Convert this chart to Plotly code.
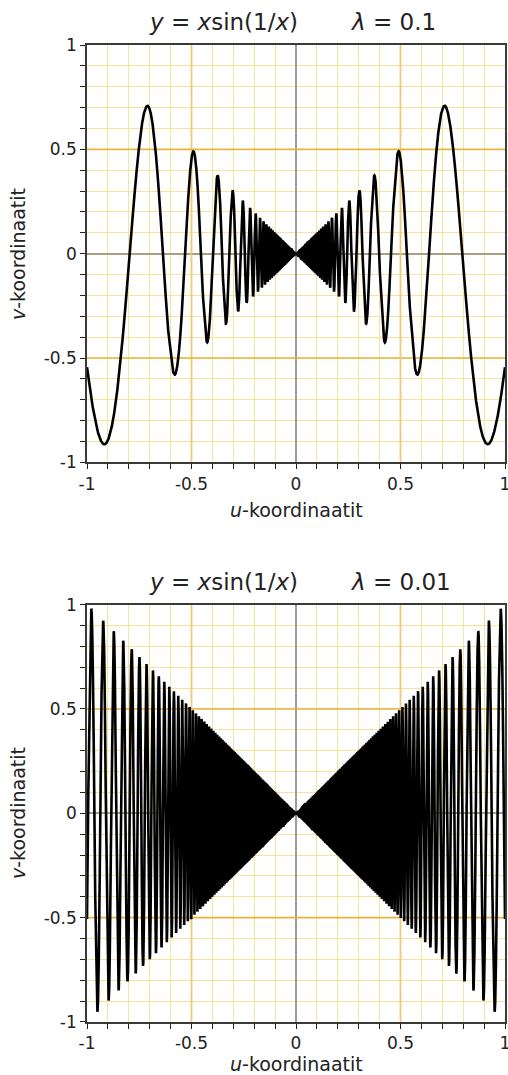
import numpy as np
import plotly.graph_objects as go
from plotly.subplots import make_subplots

# ---- data ----
lambdas = [0.1, 0.01]
lambda_labels = ["0.1", "0.01"]
u_samples = np.linspace(-1.0, 1.0, 60001)
major_ticks = [-1, -0.5, 0, 0.5, 1]
major_text = ["-1", "-0.5", "0", "0.5", "1"]
grid_ticks = [round(-1 + 0.1 * k, 1) for k in range(21)]
x_title = "<i>u</i>-koordinaatit"
y_title = "<i>v</i>-koordinaatit"


def zoomed_curve(u, lam):
    # y = x sin(1/x) with x = lam*u, y = lam*v  ->  v = u sin(1/(lam*u))
    v = np.zeros_like(u)
    nz = u != 0
    v[nz] = u[nz] * np.sin(1.0 / (lam * u[nz]))
    return v


label_map = dict(zip(major_ticks, major_text))
grid_text = [label_map.get(t, "") for t in grid_ticks]

W, H = 508, 1075
ML, MR, MT, MB = 87, 3, 45, 53
PW = W - ML - MR
PH = H - MT - MB

fig = make_subplots(rows=2, cols=1, vertical_spacing=0.1455)

font = "DejaVu Sans, Liberation Sans, sans-serif"
axis_common = dict(
    range=[-1, 1], tickmode="array", tickvals=grid_ticks, ticktext=grid_text,
    showgrid=True, gridcolor="#f6e49a", gridwidth=1.4,
    zeroline=True, zerolinewidth=1.5,
    showline=True, linecolor="#3a3a3a", linewidth=1.6, mirror=True,
    ticks="outside", ticklen=5, tickwidth=1.2, tickcolor="#222",
    ticklabeloverflow="allow", automargin=False,
    tickfont=dict(family=font, size=17, color="#222"),
    minor=dict(showgrid=False, ticks=""),
    fixedrange=True,
)

for i, lam in enumerate(lambdas):
    r = i + 1
    fig.update_xaxes(axis_common, zerolinecolor="#9c9c9c", row=r, col=1)
    fig.update_yaxes(axis_common, zerolinecolor="#a89e84", row=r, col=1)
    xref = "x" if i == 0 else "x2"
    yref = "y" if i == 0 else "y2"
    for m in (-0.5, 0.5):
        fig.add_shape(type="line", xref=xref, yref=yref, x0=m, x1=m, y0=-1, y1=1,
                      line=dict(color="#f0c878", width=1.8), layer="between")
        fig.add_shape(type="line", xref=xref, yref=yref, x0=-1, x1=1, y0=m, y1=m,
                      line=dict(color="#e8b43c", width=1.6), layer="between")
    fig.add_trace(
        go.Scatter(x=u_samples, y=zoomed_curve(u_samples, lam), mode="lines",
                   line=dict(color="black", width=2.6), hoverinfo="skip",
                   showlegend=False),
        row=r, col=1)

fig.update_layout(
    template="none",
    width=W, height=H, margin=dict(l=ML, r=MR, t=MT, b=MB),
    paper_bgcolor="white", plot_bgcolor="white",
    font=dict(family=font, color="#222"),
)


def px_x(px):
    return (px - ML) / PW


def px_y(py):
    return (H - MB - py) / PH


annotations = []
title_centers_y = [22, 582]
xtitle_y = [510, 1064]
ytitle_y = [254, 813]
for i in range(2):
    annotations.append(dict(
        text="<i>y</i> = <i>x</i>sin(1/<i>x</i>)", xref="paper", yref="paper",
        x=px_x(223), y=px_y(title_centers_y[i]), xanchor="center", yanchor="middle",
        showarrow=False, font=dict(family=font, size=23, color="#222")))
    annotations.append(dict(
        text="<i>λ</i> = " + lambda_labels[i], xref="paper", yref="paper",
        x=px_x(348), y=px_y(title_centers_y[i]), xanchor="left", yanchor="middle",
        showarrow=False, font=dict(family=font, size=23, color="#222")))
    annotations.append(dict(
        text=x_title, xref="paper", yref="paper",
        x=px_x(296), y=px_y(xtitle_y[i]), xanchor="center", yanchor="middle",
        showarrow=False, font=dict(family=font, size=19, color="#222")))
    annotations.append(dict(
        text=y_title, xref="paper", yref="paper", textangle=-90,
        x=px_x(18), y=px_y(ytitle_y[i]), xanchor="center", yanchor="middle",
        showarrow=False, font=dict(family=font, size=19, color="#222")))
fig.update_layout(annotations=annotations)

fig.write_html("out.html")
